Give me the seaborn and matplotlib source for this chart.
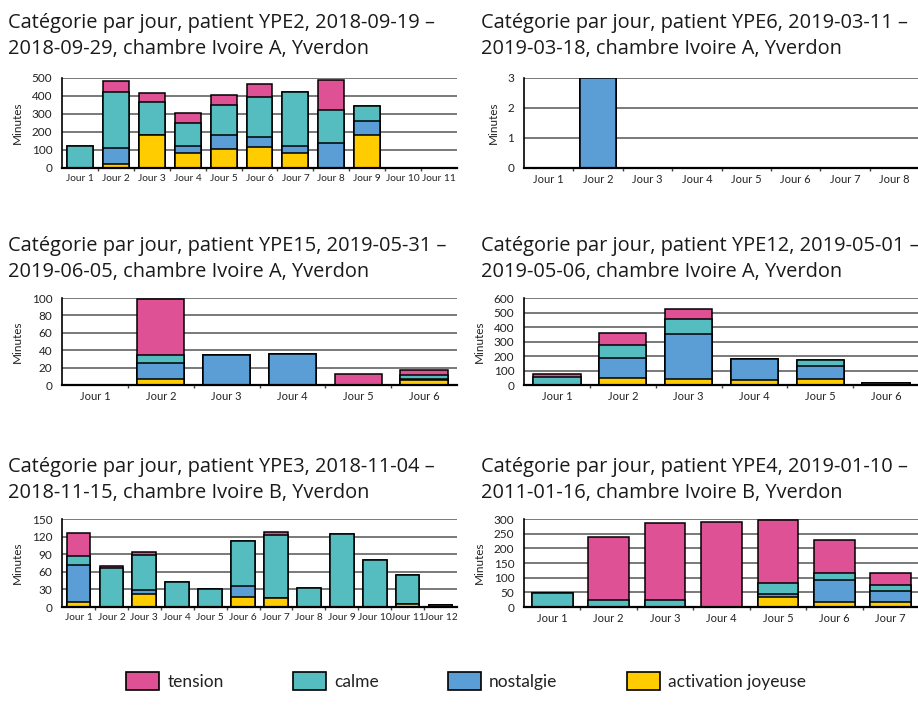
import numpy as np
import pandas as pd
import seaborn as sns
import matplotlib.pyplot as plt
from matplotlib.patches import Patch
from matplotlib.ticker import FixedLocator

# couleurs des catégories
c_tension = '#DF5195'
c_calme = '#55BDC0'
c_nostalgie = '#5B9ED6'
c_joie = '#FFCC00'

# YPE2
ype2_joie = [0, 25, 185, 85, 105, 115, 85, 0, 185, 0, 0]
ype2_nostalgie = [0, 85, 0, 35, 80, 55, 35, 140, 75, 0, 0]
ype2_calme = [120, 310, 180, 130, 165, 225, 300, 180, 85, 0, 0]
ype2_tension = [4, 65, 50, 55, 55, 70, 0, 170, 0, 0, 0]

# YPE6
ype6_joie = [0, 0, 0, 0, 0, 0, 0, 0]
ype6_nostalgie = [0, 3, 0, 0, 0, 0, 0, 0]
ype6_calme = [0, 0, 0, 0, 0, 0, 0, 0]
ype6_tension = [0, 0, 0, 0, 0, 0, 0, 0]

# YPE15
ype15_joie = [0, 7, 0, 0, 0, 6]
ype15_nostalgie = [0, 18, 35, 36, 0, 1]
ype15_calme = [0, 9, 0, 0, 0, 4]
ype15_tension = [0, 65, 0, 0, 13, 6]

# YPE12
ype12_joie = [0, 50, 40, 35, 40, 0]
ype12_nostalgie = [0, 135, 315, 145, 92, 15]
ype12_calme = [55, 92, 97, 0, 43, 0]
ype12_tension = [22, 83, 74, 0, 0, 0]

# YPE3
ype3_joie = [8, 0, 22, 0, 0, 17, 16, 0, 0, 0, 5, 0]
ype3_nostalgie = [64, 0, 7, 0, 0, 18, 0, 0, 0, 0, 0, 3]
ype3_calme = [15, 67, 60, 42, 30, 77, 107, 32, 125, 80, 49, 0]
ype3_tension = [39, 3, 5, 0, 0, 0, 5, 0, 0, 0, 0, 0]

# YPE4
ype4_joie = [0, 0, 0, 0, 35, 18, 18]
ype4_nostalgie = [0, 0, 0, 0, 8, 74, 35]
ype4_calme = [47, 23, 23, 0, 40, 23, 22]
ype4_tension = [0, 214, 264, 290, 214, 115, 40]

titres = [
    ("Catégorie par jour, patient YPE2, 2018-09-19 –", "2018-09-29, chambre Ivoire A, Yverdon"),
    ("Catégorie par jour, patient YPE6, 2019-03-11 –", "2019-03-18, chambre Ivoire A, Yverdon"),
    ("Catégorie par jour, patient YPE15, 2019-05-31 –", "2019-06-05, chambre Ivoire A, Yverdon"),
    ("Catégorie par jour, patient YPE12, 2019-05-01 –", "2019-05-06, chambre Ivoire A, Yverdon"),
    ("Catégorie par jour, patient YPE3, 2018-11-04 –", "2018-11-15, chambre Ivoire B, Yverdon"),
    ("Catégorie par jour, patient YPE4, 2019-01-10 –", "2011-01-16, chambre Ivoire B, Yverdon"),
]

sns.set_style("white")
plt.rcParams['font.family'] = ['Lato', 'DejaVu Sans']


def draw_panel(ax, joie, nostalgie, calme, tension, ymax, ystep):
    n = len(joie)
    df = pd.DataFrame({'jour': ['Jour %d' % (i + 1) for i in range(n)],
                       'joie': joie, 'nostalgie': nostalgie,
                       'calme': calme, 'tension': tension})
    df['cum_nost'] = df['joie'] + df['nostalgie']
    df['cum_calme'] = df['cum_nost'] + df['calme']
    df['cum_tension'] = df['cum_calme'] + df['tension']
    # empilement : on dessine les cumuls du plus haut au plus bas
    for col, color in [('cum_tension', c_tension), ('cum_calme', c_calme),
                       ('cum_nost', c_nostalgie), ('joie', c_joie)]:
        sns.barplot(data=df, x='jour', y=col, color=color, saturation=1,
                    edgecolor='black', linewidth=1.1, width=0.72, ax=ax,
                    errorbar=None)
    ax.set_xlim(-0.5, n - 0.5)
    ax.set_ylim(0, ymax)
    ax.set_yticks(np.arange(0, ymax + ystep / 2, ystep))
    ax.set_axisbelow(True)
    ax.grid(axis='y', color='#555555', linewidth=1.1)
    ax.grid(axis='x', visible=False)
    for s in ['top', 'right']:
        ax.spines[s].set_visible(False)
    ax.spines['left'].set_color('black')
    ax.spines['left'].set_linewidth(1.2)
    ax.spines['bottom'].set_color('black')
    ax.spines['bottom'].set_linewidth(1.6)
    ax.xaxis.set_minor_locator(FixedLocator(np.arange(0.5, n - 0.5, 1)))
    xsize = 7.3 if n > 10 else 8
    ax.tick_params(axis='x', which='major', length=0, pad=4, labelsize=xsize, colors='#222222')
    ax.tick_params(axis='x', which='minor', length=2, width=1, color='#444444', bottom=True)
    ax.tick_params(axis='y', length=0, pad=7, labelsize=8.5, colors='#222222')
    ax.set_xlabel('')
    ax.set_ylabel('Minutes', fontsize=8.5, color='#222222', labelpad=6)


fig = plt.figure(figsize=(9.18, 7.10), dpi=100)
W, H = 918, 710

rows = [(78, 168), (298, 385), (519, 607)]
cols = [(62, 457), (524, 919)]
panels = [
    (ype2_joie, ype2_nostalgie, ype2_calme, ype2_tension, 500, 100),
    (ype6_joie, ype6_nostalgie, ype6_calme, ype6_tension, 3, 1),
    (ype15_joie, ype15_nostalgie, ype15_calme, ype15_tension, 100, 20),
    (ype12_joie, ype12_nostalgie, ype12_calme, ype12_tension, 600, 100),
    (ype3_joie, ype3_nostalgie, ype3_calme, ype3_tension, 150, 30),
    (ype4_joie, ype4_nostalgie, ype4_calme, ype4_tension, 300, 50),
]
title_base = [28, 251, 472]
title_x = [8, 481]

for k, p in enumerate(panels):
    r, c = divmod(k, 2)
    top, bot = rows[r]
    left, right = cols[c]
    ax = fig.add_axes([left / W, 1 - bot / H, (right - left) / W, (bot - top) / H])
    draw_panel(ax, *p)
    l1, l2 = titres[k]
    for j, line in enumerate([l1, l2]):
        fig.text(title_x[c] / W, 1 - (title_base[r] + 26 * j) / H, line,
                 fontsize=14.4, family=['Open Sans', 'DejaVu Sans'],
                 color='#1a1a1a', va='baseline')

handles = [Patch(facecolor=col, edgecolor='black', linewidth=1.2, label=lab)
           for col, lab in [(c_tension, 'tension'), (c_calme, 'calme'),
                            (c_nostalgie, 'nostalgie'), (c_joie, 'activation joyeuse')]]
fig.legend(handles=handles, loc='center', bbox_to_anchor=(466 / W, 1 - 681 / H), ncol=4,
           frameon=False, fontsize=12.5, handlelength=1.9, handleheight=1.3,
           handletextpad=0.45, columnspacing=4.0, labelcolor='#222222')

fig.savefig('out.png', dpi=100)
